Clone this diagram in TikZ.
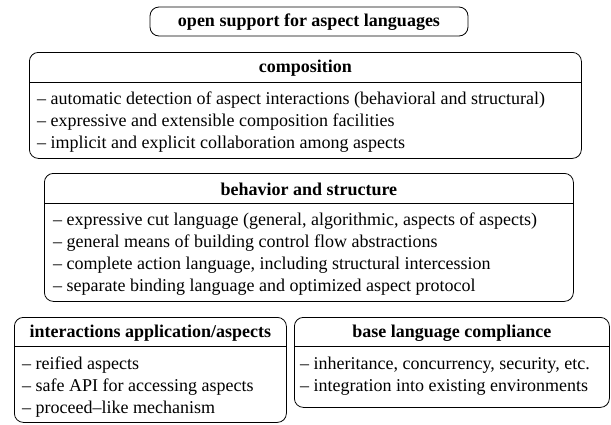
\documentclass[tikz,border=0pt]{standalone}
\usepackage{fontspec}
\setmainfont{Liberation Serif}
\usetikzlibrary{positioning,calc}

\tikzset{
  panel/.style={draw, rounded corners=9pt, line width=0.8pt, inner sep=0pt},
  paneltitle/.style={font=\fontsize{18}{21}\selectfont\bfseries, inner sep=0pt},
  panelbody/.style={font=\fontsize{18}{22}\selectfont, align=left, anchor=north west, inner sep=0pt},
}

\begin{document}
\begin{tikzpicture}[x=1pt,y=-1pt]
\useasboundingbox (0,0) rectangle (611,424);

% title
\node[panel, minimum width=318pt, minimum height=29pt] (top) at (309,21.5) {};
\node[paneltitle] (top-t) at ($(top)+(0,1)$) {open support for aspect languages};

% composition
\node[panel, anchor=north west, minimum width=552pt, minimum height=106pt] (comp) at (29,52) {};
\node[paneltitle] (comp-t) at ($(comp.north)+(0,16)$) {composition};
\draw[line width=0.8pt] ($(comp.north west)+(0,30)$) -- ($(comp.north east)+(0,30)$);
\node[panelbody] (comp-b) at ($(comp.north west)+(8,40)$)
  {-- automatic detection of aspect interactions (behavioral and structural)\\
   -- expressive and extensible composition facilities\\
   -- implicit and explicit collaboration among aspects};

% behavior and structure
\node[panel, anchor=north west, minimum width=529pt, minimum height=128pt] (behav) at (44,173) {};
\node[paneltitle] (behav-t) at ($(behav.north)+(0,16)$) {behavior and structure};
\draw[line width=0.8pt] ($(behav.north west)+(0,30)$) -- ($(behav.north east)+(0,30)$);
\node[panelbody] (behav-b) at ($(behav.north west)+(9,40)$)
  {-- expressive cut language (general, algorithmic, aspects of aspects)\\
   -- general means of building control flow abstractions\\
   -- complete action language, including structural intercession\\
   -- separate binding language and optimized aspect protocol};

% interactions application/aspects
\node[panel, anchor=north west, minimum width=272pt, minimum height=105pt] (inter) at (14,317) {};
\node[paneltitle] (inter-t) at ($(inter.north)+(0,16)$) {interactions application/aspects};
\draw[line width=0.8pt] ($(inter.north west)+(0,29)$) -- ($(inter.north east)+(0,29)$);
\node[panelbody] (inter-b) at ($(inter.north west)+(8,40)$)
  {-- reified aspects\\
   -- safe API for accessing aspects\\
   -- proceed--like mechanism};

% base language compliance
\node[panel, anchor=north west, minimum width=315pt, minimum height=90pt] (base) at (294,317) {};
\node[paneltitle] (base-t) at ($(base.north)+(0,16)$) {base language compliance};
\draw[line width=0.8pt] ($(base.north west)+(0,29)$) -- ($(base.north east)+(0,29)$);
\node[panelbody] (base-b) at ($(base.north west)+(6,40)$)
  {-- inheritance, concurrency, security, etc.\\
   -- integration into existing environments};

\end{tikzpicture}
\end{document}
